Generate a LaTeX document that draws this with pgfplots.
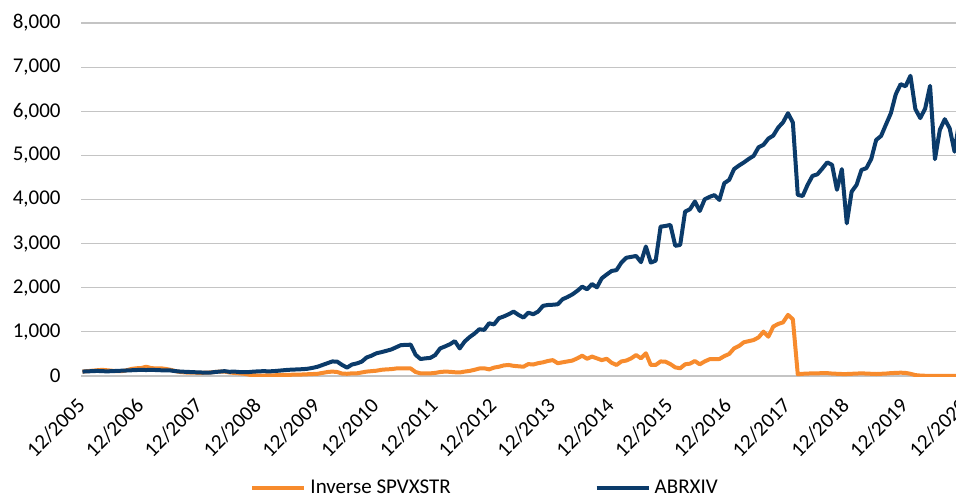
\documentclass[border=0pt]{standalone}
\usepackage{fontspec}
\setmainfont{Carlito}
\usepackage{pgfplots}
\usepackage{pgfplotstable}
\pgfplotsset{compat=1.18}
\definecolor{cOrange}{HTML}{F78B2D}
\definecolor{cBlue}{HTML}{0B3B6A}
\definecolor{cGrid}{HTML}{C4C4C4}
\newcommand{\tfont}{\fontsize{10.5pt}{12pt}\selectfont}
\pgfplotstableread{
m blue orange
0 100 100
1 105 110
2 110 120
3 115 130
4 110 140
5 105 130
6 110 120
7 115 110
8 120 110
9 125 130
10 130 160
11 135 175
12 140 180
13 135 210
14 140 180
15 135 170
16 130 175
17 130 160
18 125 140
19 110 110
20 100 90
21 95 80
22 90 75
23 85 75
24 80 70
25 78 75
26 75 80
27 90 90
28 100 100
29 110 100
30 95 80
31 100 70
32 90 60
33 85 50
34 90 30
35 100 15
36 105 10
37 110 10
38 105 15
39 110 15
40 120 20
41 130 25
42 140 25
43 145 30
44 150 30
45 155 35
46 165 40
47 185 45
48 210 50
49 250 70
50 290 90
51 330 100
52 325 90
53 250 55
54 190 50
55 260 60
56 285 60
57 325 80
58 420 100
59 460 110
60 515 120
61 540 140
62 570 150
63 600 155
64 650 170
65 700 175
66 705 175
67 710 170
68 480 90
69 385 60
70 400 60
71 410 60
72 475 70
73 625 90
74 670 100
75 720 95
76 790 85
77 625 80
78 780 100
79 880 115
80 960 140
81 1060 170
82 1045 175
83 1195 150
84 1170 190
85 1310 210
86 1350 240
87 1400 250
88 1460 230
89 1385 220
90 1325 210
91 1435 270
92 1400 260
93 1460 290
94 1590 310
95 1610 340
96 1615 360
97 1625 290
98 1740 310
99 1790 330
100 1850 350
101 1930 400
102 2025 460
103 1965 390
104 2085 440
105 2010 400
106 2215 360
107 2300 390
108 2380 300
109 2400 250
110 2570 330
111 2680 350
112 2700 400
113 2720 475
114 2580 400
115 2935 515
116 2570 250
117 2615 250
118 3385 330
119 3400 325
120 3425 270
121 2950 195
122 2970 175
123 3725 265
124 3780 280
125 3955 340
126 3740 265
127 4005 330
128 4060 380
129 4100 385
130 3990 385
131 4370 450
132 4445 500
133 4690 625
134 4770 680
135 4840 765
136 4920 790
137 4990 815
138 5185 875
139 5240 1005
140 5380 890
141 5450 1120
142 5630 1180
143 5750 1215
144 5955 1385
145 5745 1285
146 4105 40
147 4080 50
148 4330 55
149 4535 60
150 4570 60
151 4700 65
152 4840 65
153 4785 55
154 4220 50
155 4690 45
156 3460 45
157 4180 50
158 4330 55
159 4670 60
160 4710 55
161 4920 50
162 5350 45
163 5440 50
164 5700 55
165 5955 65
166 6385 70
167 6615 75
168 6565 70
169 6805 50
170 6050 20
171 5845 10
172 6060 5
173 6575 5
174 4915 5
175 5580 5
176 5820 5
177 5615 5
178 5085 5
179 5800 5
}\datatable
\begin{document}
\begin{tikzpicture}
\begin{axis}[
  at={(40.5pt,63pt)}, anchor=south west,
  width=437.5pt, height=176.5pt, scale only axis,
  xmin=-0.3, xmax=178.3,
  ymin=0, ymax=8000,
  ytick={0,1000,...,8000},
  xtick={0,12,...,168},
  major tick length=0pt,
  axis line style={draw=none},
  ymajorgrids, grid style={cGrid, line width=0.6pt},
  yticklabel={\tfont\pgfmathprintnumber[1000 sep={,}, assume math mode=true]{\tick}},
  xticklabel={\tfont 12/\pgfmathparse{int(2005+\tick/12)}\pgfmathresult},
  yticklabel style={text=black, inner sep=0pt, xshift=-10pt, anchor=east},
  xticklabel style={text=black, inner sep=0pt, xshift=-0.5pt, yshift=-13pt, rotate=45, anchor=east},
  legend columns=2,
  legend style={at={(0.463,-0.317)}, anchor=center, draw=none, fill=none,
    font=\tfont,
    /tikz/every even column/.append style={column sep=70pt}},
  legend cell align=left,
  legend image code/.code={\draw[#1, line width=2pt] (0pt,0pt) -- (26pt,0pt);},
]
\addplot[cOrange, line width=2pt, line join=round] table[x=m, y=orange] {\datatable};
\addlegendentry{Inverse SPVXSTR}
\addplot[cBlue, line width=2pt, line join=round] table[x=m, y=blue] {\datatable};
\addlegendentry{ABRXIV}
\end{axis}
\node[inner sep=0pt, xshift=-0.5pt, yshift=-13pt, rotate=45, anchor=east, font=\tfont] at (482.5pt, 63pt) {12/2020};
\pgfresetboundingbox
\path[use as bounding box] (0pt,0pt) rectangle (478pt,251pt);
\end{tikzpicture}
\end{document}
